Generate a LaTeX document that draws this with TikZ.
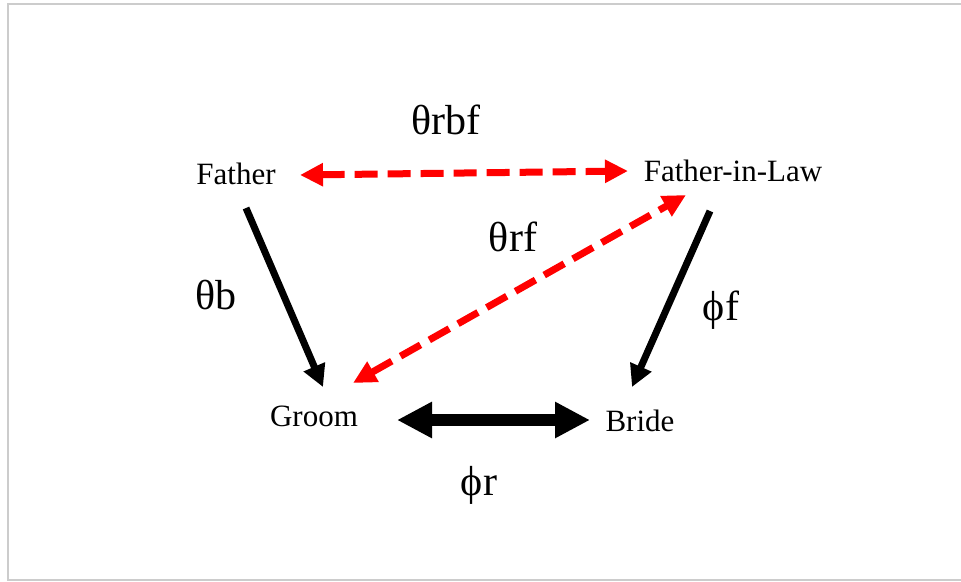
\documentclass[tikz,border=0pt]{standalone}
\usepackage{fontspec}
\setmainfont{Liberation Serif}
\usetikzlibrary{arrows.meta}
\begin{document}
\begin{tikzpicture}[x=1pt,y=-1pt,
  person/.style={inner sep=0pt,font=\fontsize{31}{33}\selectfont},
  lbl/.style={inner sep=0pt,font=\fontsize{42}{44}\selectfont},
  reddash/.style={draw=red,line width=7pt,dash pattern=on 23pt off 10pt,
    {Triangle[length=23pt,width=22pt]}-{Triangle[length=23pt,width=22pt]}},
  blackone/.style={draw=black,line width=7pt,-{Triangle[length=22pt,width=22pt]}},
  blackboth/.style={draw=black,line width=12pt,
    {Triangle[length=35pt,width=34pt]}-{Triangle[length=35pt,width=34pt]}}]
\useasboundingbox (0,0) rectangle (961,581);
\fill[white] (0,0) rectangle (961,581);
\draw[draw=black!20,line width=2pt] (970,4) -- (8,4) -- (8,580) -- (970,580);

\node[person] (father) at (236,174) {Father};
\node[person] (fil) at (733,171) {Father-in-Law};
\node[person] (groom) at (314,416) {Groom};
\node[person] (bride) at (640,421) {Bride};

\node[lbl] (trbf) at (446,120) {θrbf};
\node[lbl] (trf) at (513,237) {θrf};
\node[lbl] (tb) at (216,295) {θb};
\node[lbl] (pf) at (721,310) {ϕf};
\node[lbl] (pr) at (479,485) {ϕr};

\coordinate (fR) at (300,175);
\coordinate (filL) at (628,171);
\coordinate (fB) at (246,208);
\coordinate (gT) at (323,387);
\coordinate (filB) at (686,195);
\coordinate (gTR) at (353,383);
\coordinate (filS) at (710,211);
\coordinate (bT) at (632,387);
\coordinate (gR) at (397,420);
\coordinate (bL) at (590,420);

\draw[reddash] (fR) -- (filL);
\draw[reddash] (gTR) -- (filB);
\draw[blackone] (fB) -- (gT);
\draw[blackone] (filS) -- (bT);
\draw[blackboth] (gR) -- (bL);
\end{tikzpicture}
\end{document}
